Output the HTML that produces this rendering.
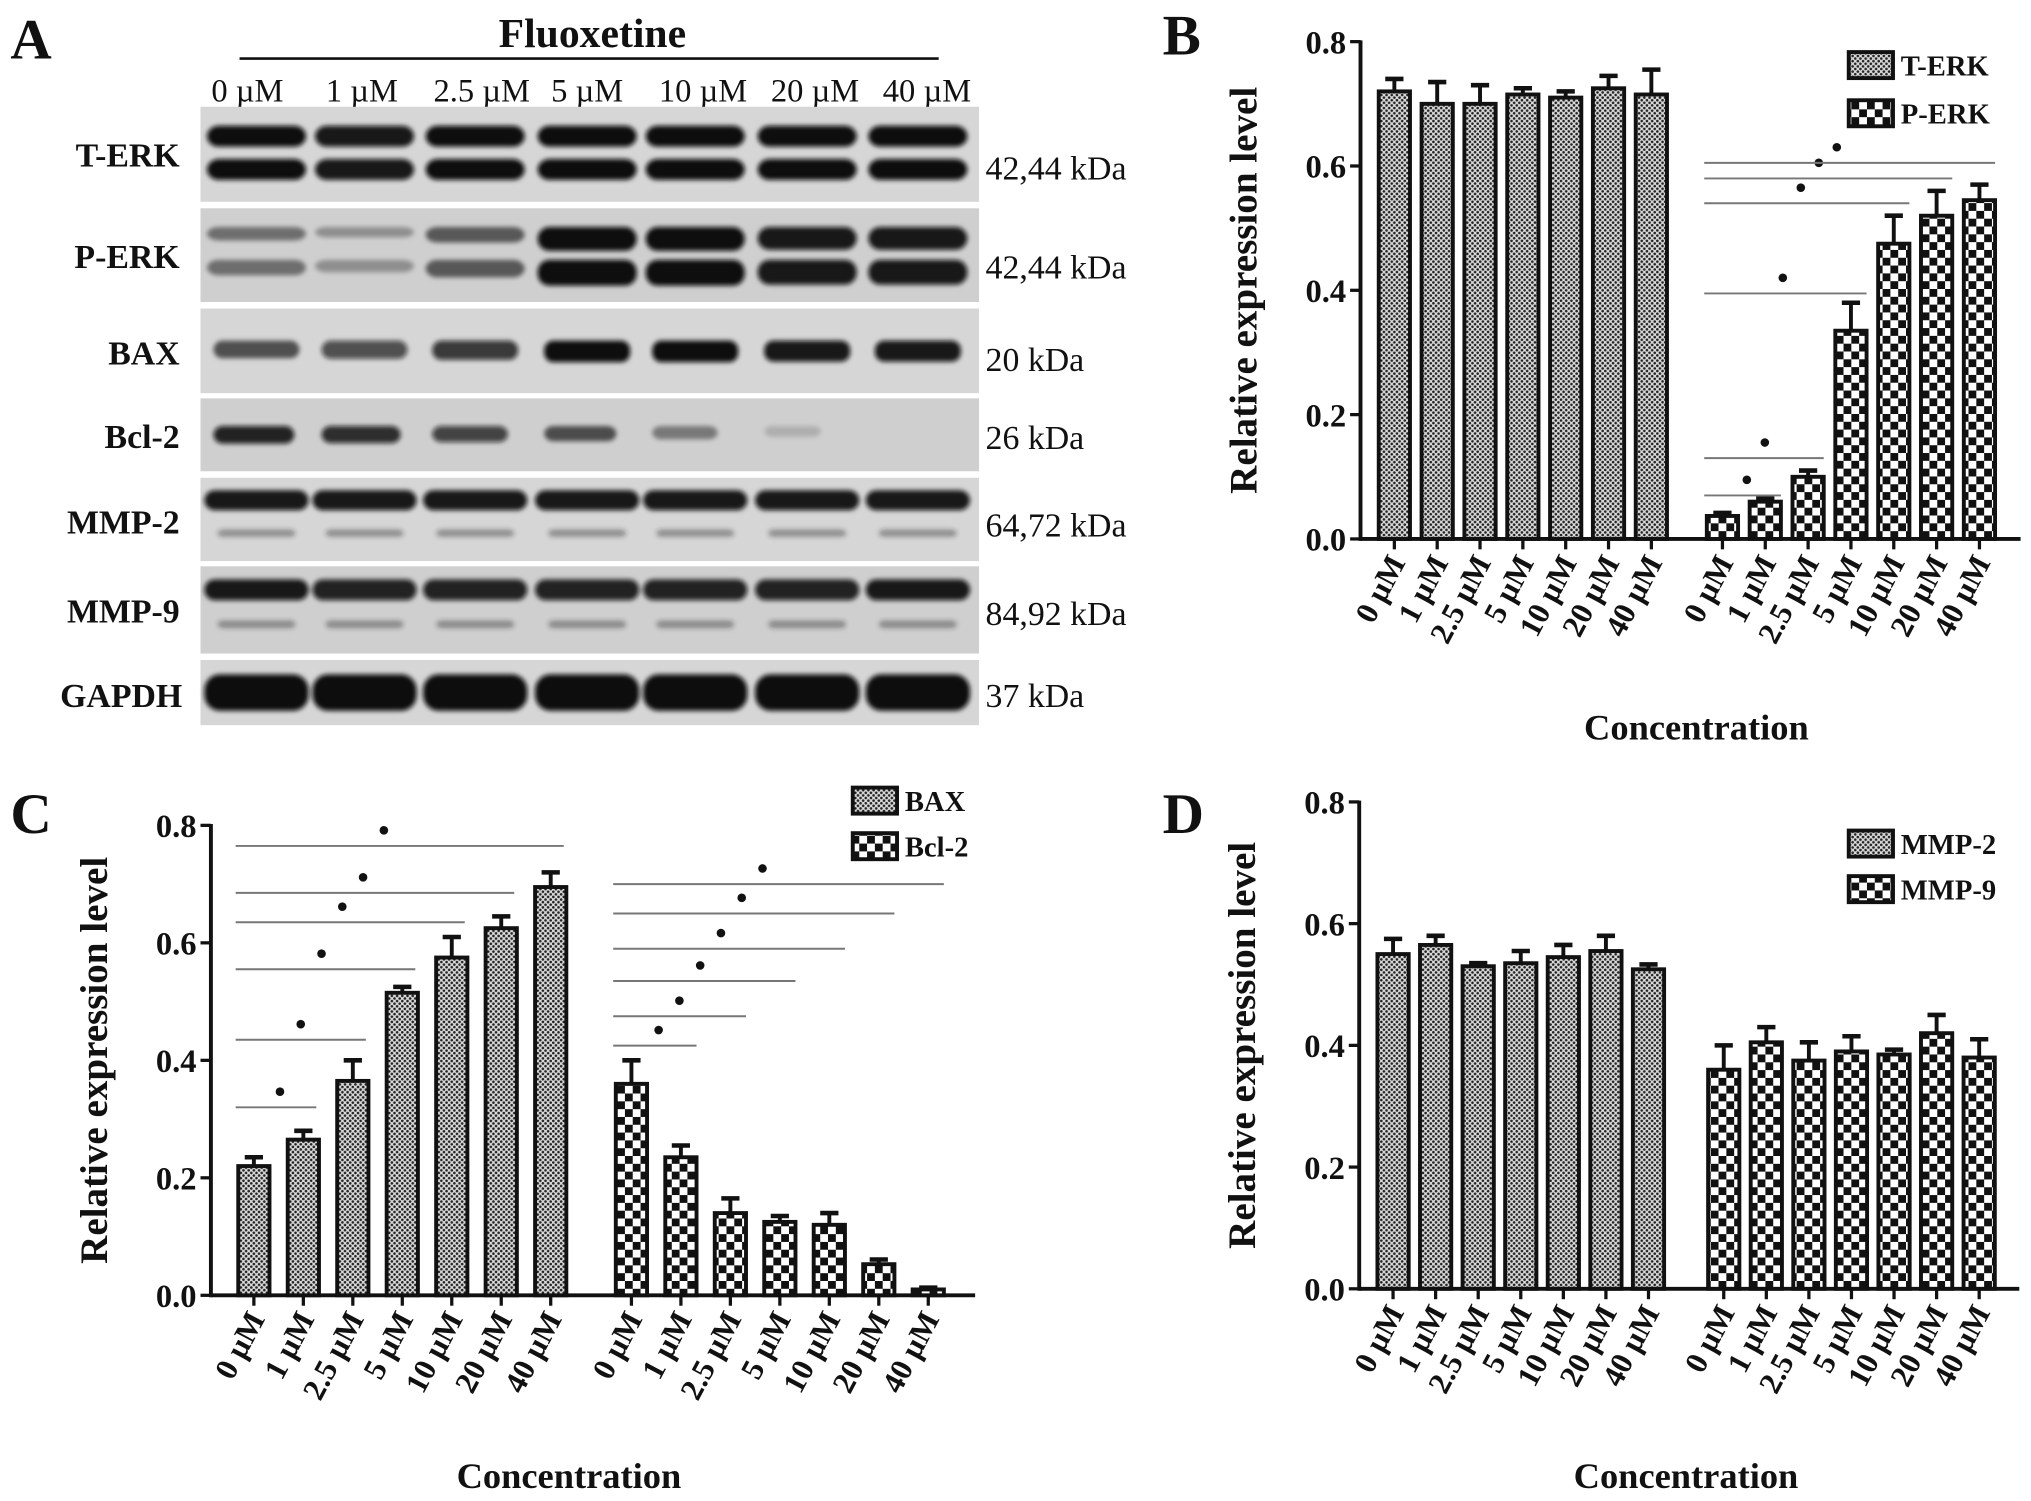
<!DOCTYPE html>
<html><head><meta charset="utf-8">
<style>
html,body{margin:0;padding:0;background:#fff;}
svg{display:block;}
text{font-family:"Liberation Serif",serif;font-weight:bold;fill:#111;}
text.nb{font-weight:normal;}
</style></head>
<body>
<svg id="fig" width="2031" height="1501" viewBox="0 0 1560 1153" preserveAspectRatio="none" xmlns="http://www.w3.org/2000/svg">
<defs>
<pattern id="fine" width="4" height="4" patternUnits="userSpaceOnUse">
<rect width="4" height="4" fill="#d9d9d9"/><circle cx="1" cy="1" r="1" fill="#222"/><circle cx="3" cy="3" r="1" fill="#222"/>
</pattern>
<pattern id="coarse" width="12" height="12" patternUnits="userSpaceOnUse">
<rect width="12" height="12" fill="#fff"/><rect width="6" height="6" fill="#111"/><rect x="6" y="6" width="6" height="6" fill="#111"/>
</pattern>
<filter id="blur" x="-20%" y="-50%" width="140%" height="200%"><feGaussianBlur stdDeviation="1.8"/></filter>
</defs>
<g id="root"></g>
</svg>
<script>
// ---- shared categories ----
const concLabels = ["0 µM","1 µM","2.5 µM","5 µM","10 µM","20 µM","40 µM"];
const yTicks = [0.0,0.2,0.4,0.6,0.8];
const yTickLabels = ["0.0","0.2","0.4","0.6","0.8"];
// ---- panel B ----
const tErk = [0.72,0.70,0.70,0.715,0.71,0.725,0.715];
const tErkErr = [0.02,0.035,0.03,0.01,0.01,0.02,0.04];
const pErk = [0.037,0.06,0.10,0.335,0.475,0.52,0.545];
const pErkErr = [0.005,0.005,0.01,0.045,0.045,0.04,0.025];
const sigBEnd = [1,2,3,4,5,6];
const sigBLevel = [0.07,0.13,0.395,0.54,0.58,0.605];
// ---- panel C ----
const bax = [0.22,0.265,0.365,0.515,0.575,0.625,0.695];
const baxErr = [0.015,0.015,0.035,0.01,0.035,0.02,0.025];
const bcl2 = [0.36,0.235,0.14,0.125,0.12,0.053,0.01];
const bcl2Err = [0.04,0.02,0.025,0.01,0.02,0.008,0.003];
const sigCBaxEnd = [1,2,3,4,5,6];
const sigCBaxLevel = [0.32,0.435,0.555,0.635,0.685,0.765];
const sigCBclEnd = [1,2,3,4,5,6];
const sigCBclLevel = [0.425,0.475,0.535,0.59,0.65,0.70];
// ---- panel D ----
const mmp2 = [0.55,0.565,0.53,0.535,0.545,0.555,0.525];
const mmp2Err = [0.025,0.015,0.005,0.02,0.02,0.025,0.008];
const mmp9 = [0.36,0.405,0.375,0.39,0.385,0.42,0.38];
const mmp9Err = [0.04,0.025,0.03,0.025,0.008,0.03,0.03];
// ---- panel A blot intensities (0..1) per lane ----
const blotRows = ["T-ERK","P-ERK","BAX","Bcl-2","MMP-2","MMP-9","GAPDH"];
const blotKda = ["42,44 kDa","42,44 kDa","20 kDa","26 kDa","64,72 kDa","84,92 kDa","37 kDa"];
const tErkBand = [0.95,0.9,0.95,1,1,0.95,1];
const pErkBand = [0.45,0.3,0.55,0.95,0.95,0.9,0.9];
const baxBand = [0.6,0.65,0.75,0.95,0.95,0.9,0.9];
const bclBand = [0.85,0.8,0.7,0.6,0.4,0.15,0.0];
const mmp2Band = [0.9,0.9,0.9,0.9,0.9,0.9,0.9];
const mmp9Band = [0.9,0.85,0.85,0.85,0.85,0.85,0.9];
const gapdhBand = [1,1,1,1,1,1,1];

const NS="http://www.w3.org/2000/svg";
const root=document.getElementById('root');
function mk(tag,attrs,parent){const e=document.createElementNS(NS,tag);for(const k in attrs)e.setAttribute(k,attrs[k]);(parent||root).appendChild(e);return e;}
function txt(s,attrs,parent){const e=mk('text',attrs,parent);e.textContent=s;return e;}

// ---------- Panel A ----------
(function(){
  const g=mk('g',{});
  
  
  const pl=txt('A',{x:8,y:45,'font-size':44},g);
  
  
  const ft=txt('Fluoxetine',{x:455,y:36,'font-size':32,'text-anchor':'middle'},g);
  
  
  const ln=mk('line',{x1:184,y1:45,x2:721,y2:45,stroke:'#111','stroke-width':2},g);
  
  
  const lanes=[197,280,365,451,534,620,705];
  const labX=[190,278,370,451,540,626,712];
  concLabels.forEach((c,i)=>{
    const t=txt(c,{x:labX[i],y:78,'font-size':25,'text-anchor':'middle','class':'nb'},g);
    
    
  });
  const rowsY=[[82,155],[160,232],[237,302],[306,362],[367,431],[435,502],[507,557]];
  const rowLabY=[128,206,280,344,410,478,543];
  const kdaY=[138,214,285,345,412,480,543];
  const data=[tErkBand,pErkBand,baxBand,bclBand,mmp2Band,mmp9Band,gapdhBand];
  rowsY.forEach((r,ri)=>{
    const bg=mk('rect',{x:154,y:r[0],width:598,height:r[1]-r[0],fill:ri%2?'#cfcfcf':'#d6d6d6'},g);
    
    
    const lab=txt(blotRows[ri],{x:ri===6?140:138,y:rowLabY[ri],'font-size':26,'text-anchor':'end'},g);
    
    
    const kd=txt(blotKda[ri],{x:757,y:kdaY[ri],'font-size':26,'class':'nb'},g);
    
    
    const bands=mk('g',{filter:'url(#blur)'},g);
    const h=r[1]-r[0];
    lanes.forEach((lx,li)=>{
      const v=data[ri][li]; if(v<=0.01) return;
      const col='rgba(10,10,10,'+Math.min(1,v*1.05)+')';
      if(ri<2){
        mk('rect',{x:lx-38,y:r[0]+h*0.2,width:76,height:h*0.22*(ri?v+0.2:1),rx:9,fill:col},bands);
        mk('rect',{x:lx-38,y:r[0]+h*0.55,width:76,height:h*0.22*(ri?v+0.3:1),rx:9,fill:col},bands);
      } else if(ri===4||ri===5){
        mk('rect',{x:lx-40,y:r[0]+h*0.15,width:80,height:h*0.24,rx:8,fill:col},bands);
        mk('rect',{x:lx-30,y:r[0]+h*0.62,width:60,height:h*0.09,rx:5,fill:'rgba(40,40,40,0.4)'},bands);
      } else if(ri===6){
        mk('rect',{x:lx-40,y:r[0]+h*0.22,width:80,height:h*0.56,rx:12,fill:col},bands);
      } else {
        mk('rect',{x:lx-33,y:r[0]+h*0.38,width:66*(ri===3?(0.6+0.4*v):1),height:h*0.26*(0.5+v*0.5),rx:7,fill:col},bands);
      }
    });
  });
})();

// ---------- bar chart builder ----------
function chart(opt){
  const g=mk('g',{});
  
  
  const y=v=>opt.y0+(opt.y8-opt.y0)*(v/0.8);
  const pl=txt(opt.letter,{x:opt.lx,y:opt.ly,'font-size':44},g);
  
  
  const ya=mk('line',{x1:opt.ax,y1:y(0.8)-1,x2:opt.ax,y2:y(0)+1.5,stroke:'#111','stroke-width':3},g);
  
  
  yTicks.forEach((t,i)=>{
    mk('line',{x1:opt.ax-8,y1:y(t),x2:opt.ax,y2:y(t),stroke:'#111','stroke-width':2.5},g);
    const tl=txt(yTickLabels[i],{x:opt.ax-11,y:y(t)+9,'font-size':25,'text-anchor':'end','font-family':'Liberation Sans'},g);
    
    
  });
  const xa=mk('line',{x1:opt.ax,y1:y(0),x2:opt.xend,y2:y(0),stroke:'#111','stroke-width':3},g);
  
  
  const yt=txt('Relative expression level',{x:0,y:0,'font-size':30,'text-anchor':'middle',transform:'translate('+(opt.ax-80)+','+((y(0)+y(0.8))/2)+') rotate(-90)'},g);
  
  
  const xt=txt('Concentration',{x:opt.xtx,y:opt.xty,'font-size':28,'text-anchor':'middle'},g);
  
  
  const bw=24;
  opt.series.forEach((s,si)=>{
    s.vals.forEach((v,i)=>{
      const cx=opt.x0[si]+opt.step*i;
      const top=y(v+s.err[i]);
      mk('line',{x1:cx,y1:y(v),x2:cx,y2:top,stroke:'#111','stroke-width':3},g);
      mk('line',{x1:cx-7,y1:top,x2:cx+7,y2:top,stroke:'#111','stroke-width':3.5},g);
      const b=mk('rect',{x:cx-bw/2,y:y(v),width:bw,height:Math.max(0.5,y(0)-y(v)),fill:'url(#'+s.pat+')',stroke:'#111','stroke-width':3},g);
      
      
      mk('line',{x1:cx,y1:y(0),x2:cx,y2:y(0)+8,stroke:'#111','stroke-width':2.5},g);
      const tl=txt(concLabels[i],{x:0,y:0,'font-size':24,'text-anchor':'end',transform:'translate('+(cx+9)+','+(y(0)+18)+') rotate(-62)'},g);
      
      
    });
    const ly=opt.legY+si*opt.legGap;
    const lr=mk('rect',{x:opt.legX,y:ly-10,width:34,height:20,fill:'url(#'+s.pat+')',stroke:'#111','stroke-width':3},g);
    
    
    const lt=txt(s.label,{x:opt.legX+40,y:ly+8,'font-size':22},g);
    
    
  });
  (opt.sig||[]).forEach(sg=>{
    const x0=opt.x0[sg.series]-14;
    sg.end.forEach((e,k)=>{
      const x1=opt.x0[sg.series]+opt.step*e+(sg.extra||10);
      const ly=y(sg.level[k]);
      const l=mk('line',{x1:x0,y1:ly,x2:x1,y2:ly,stroke:'#777','stroke-width':1.5},g);
      
      
      const d=mk('circle',{cx:x0+(x1-x0)*0.42+8,cy:ly-12,r:3.3,fill:'#111'},g);
      
      
    });
  });
}

chart({name:'panel-b-erk-chart',letter:'B',lx:893,ly:42,ax:1045,xend:1552,y0:414,y8:32,
  x0:[1071,1323],step:32.9,xtx:1303,xty:568,legX:1420,legY:50,legGap:37,
  series:[{key:'t-erk',label:'T-ERK',vals:tErk,err:tErkErr,pat:'fine'},{key:'p-erk',label:'P-ERK',vals:pErk,err:pErkErr,pat:'coarse'}],
  sig:[{series:1,end:sigBEnd,level:sigBLevel,extra:12}]});

chart({name:'panel-c-bax-bcl2-chart',letter:'C',lx:8,ly:640,ax:162,xend:749,y0:995,y8:634,
  x0:[195,485],step:38,xtx:437,xty:1143,legX:655,legY:615,legGap:35,
  series:[{key:'bax',label:'BAX',vals:bax,err:baxErr,pat:'fine'},{key:'bcl-2',label:'Bcl-2',vals:bcl2,err:bcl2Err,pat:'coarse'}],
  sig:[{series:0,end:sigCBaxEnd,level:sigCBaxLevel,extra:10},{series:1,end:sigCBclEnd,level:sigCBclLevel,extra:12}]});

chart({name:'panel-d-mmp-chart',letter:'D',lx:893,ly:640,ax:1044,xend:1551,y0:990,y8:616,
  x0:[1070,1324],step:32.7,xtx:1295,xty:1143,legX:1420,legY:648,legGap:35,
  series:[{key:'mmp-2',label:'MMP-2',vals:mmp2,err:mmp2Err,pat:'fine'},{key:'mmp-9',label:'MMP-9',vals:mmp9,err:mmp9Err,pat:'coarse'}]});
</script>
</body></html>
